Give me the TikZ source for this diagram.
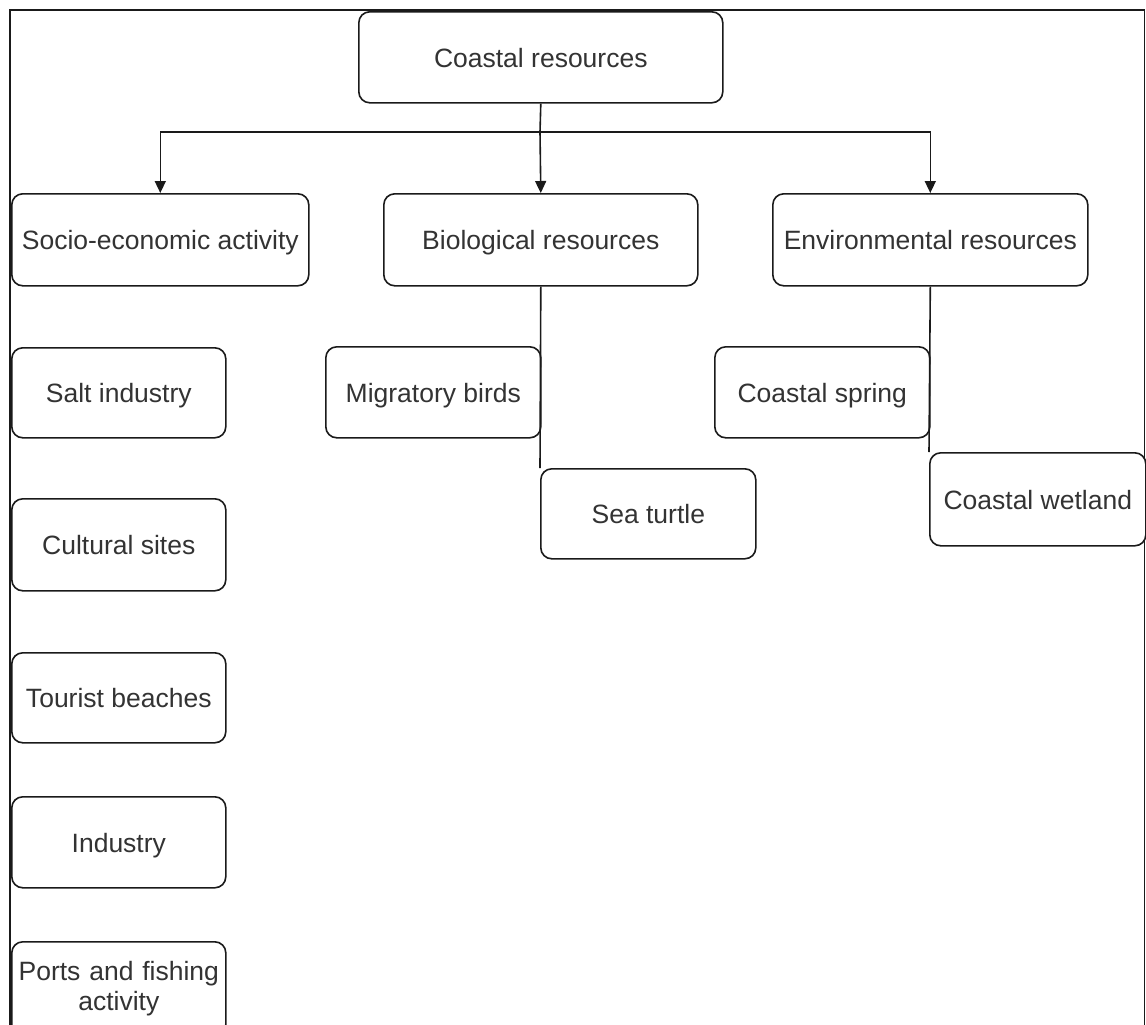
\documentclass[tikz,border=0pt]{standalone}
\usepackage{fontspec}
\setmainfont{Liberation Sans}
\usetikzlibrary{arrows.meta}
\definecolor{txt}{HTML}{333333}
\definecolor{ln}{HTML}{1a1a1a}
\begin{document}
\begin{tikzpicture}[x=1pt,y=-1pt,
  box/.style={draw=ln, line width=1.6pt, rounded corners=11pt, fill=white,
    anchor=north west, inner sep=0pt, align=center, text=txt,
    font=\fontsize{26.5}{30}\selectfont},
  one/.style={text height=24pt, text depth=4pt},
  conn/.style={draw=ln, line width=1.6pt},
  arr/.style={conn, -{Triangle[length=12pt,width=11pt]}},
  frm/.style={draw=ln, line width=1.8pt}]
\useasboundingbox (0,0) rectangle (1146,1025);
\begin{scope}
\clip (0,0) rectangle (1146,1025);
% frame of the picture
\draw[frm] (10,1030) -- (10,10) -- (1144.5,10) -- (1144.5,1030);
% nodes
\node[box, one, minimum width=364pt, minimum height=91pt] (root) at (358,11) {Coastal resources};
\node[box, one, minimum width=297pt, minimum height=92pt] (socio) at (11,193) {Socio-economic activity};
\node[box, one, minimum width=314pt, minimum height=92pt] (bio) at (383,193) {Biological resources};
\node[box, one, minimum width=315pt, minimum height=92pt] (env) at (772,193) {Environmental resources};
\node[box, one, minimum width=214pt, minimum height=90pt] (salt) at (11,347) {Salt industry};
\node[box, one, minimum width=214pt, minimum height=92pt] (cult) at (11,498) {Cultural sites};
\node[box, one, minimum width=214pt, minimum height=90pt] (tour) at (11,652) {Tourist beaches};
\node[box, one, minimum width=214pt, minimum height=91pt] (ind) at (11,796) {Industry};
\node[box, minimum width=214pt, minimum height=94pt, text width=214pt] (ports) at (11,941) {Ports and fishing\\activity};
\node[box, one, minimum width=215pt, minimum height=91pt] (mig) at (325,346) {Migratory birds};
\node[box, one, minimum width=215pt, minimum height=90pt] (turtle) at (540,468) {Sea turtle};
\node[box, one, minimum width=215pt, minimum height=91pt] (spring) at (714,346) {Coastal spring};
\node[box, one, minimum width=216pt, minimum height=93pt] (wetland) at (929,452) {Coastal wetland};
% connectors
\coordinate (j) at (540,132);
\draw[conn] (root.south) -- (j);
\draw[arr] (j) -| (socio.north);
\draw[arr] (j) -- (bio.north);
\draw[arr] (j) -| (env.north);
\draw[conn] (bio.south) -- (turtle.north west);
\draw[conn] (env.south) -- (wetland.north west);
\end{scope}
\end{tikzpicture}
\end{document}
